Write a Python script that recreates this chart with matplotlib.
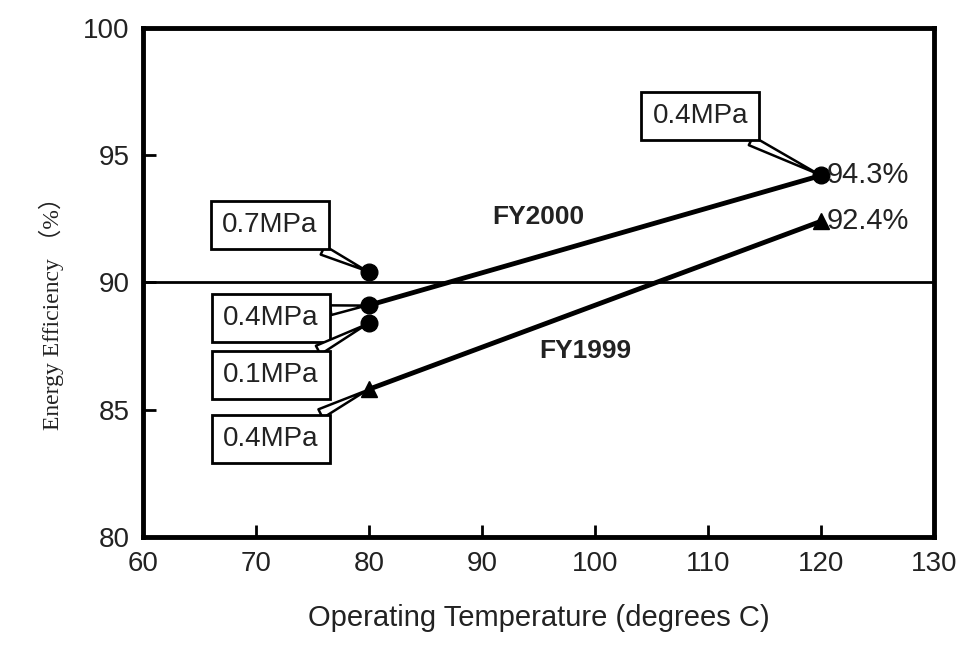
import matplotlib.pyplot as plt

# data
temps = [80, 120]
fy2000 = [89.1, 94.2]
fy1999 = [85.8, 92.4]
extra_temps = [80, 80]
extra_eff = [90.4, 88.4]   # 0.7MPa and 0.1MPa at 80 degC

# callouts: label, point (x, y), box centre (x, y)
callout_labels = ['0.7MPa', '0.4MPa', '0.1MPa', '0.4MPa', '0.4MPa']
callout_points = [(80, 90.4), (80, 89.1), (80, 88.4), (80, 85.8), (120, 94.2)]
callout_boxes = [(71.2, 92.25), (71.3, 88.6), (71.3, 86.35), (71.3, 83.85), (109.3, 96.55)]

end_labels = ['94.3%', '92.4%']

plt.rcParams['font.family'] = ['Liberation Sans', 'DejaVu Sans']

fig = plt.figure(figsize=(9.74, 6.49), dpi=100)
ax = fig.add_axes([0.147, 0.173, 0.812, 0.784])

ax.axhline(90, color='black', lw=2, zorder=1)
ax.plot(temps, fy2000, color='black', lw=3.5, marker='o', ms=12, zorder=3)
ax.plot(temps, fy1999, color='black', lw=3.5, marker='^', ms=12, zorder=3)
ax.plot(extra_temps, extra_eff, color='black', lw=0, marker='o', ms=12, zorder=3)

for lab, pt, box in zip(callout_labels, callout_points, callout_boxes):
    ax.annotate(lab, xy=pt, xytext=box, ha='center', va='center', fontsize=20,
                color='#222222',
                bbox=dict(boxstyle='square,pad=0.4', fc='white', ec='black', lw=2),
                arrowprops=dict(arrowstyle='wedge,tail_width=0.35,shrink_factor=0.5',
                                fc='white', ec='black', lw=1.8, shrinkA=0, shrinkB=2),
                zorder=4)

ax.text(120.5, fy2000[1], end_labels[0], ha='left', va='center', fontsize=21, color='#222222')
ax.text(120.5, fy1999[1], end_labels[1], ha='left', va='center', fontsize=21, color='#222222')

ax.text(95, 92.55, 'FY2000', ha='center', va='center', fontsize=19, fontweight='bold', color='#222222')
ax.text(99.1, 87.3, 'FY1999', ha='center', va='center', fontsize=19, fontweight='bold', color='#222222')

ax.set_xlim(60, 130)
ax.set_ylim(80, 100)
ax.set_xticks(range(60, 131, 10))
ax.set_yticks(range(80, 101, 5))
ax.tick_params(direction='in', length=9, width=2, labelsize=20, colors='black',
               labelcolor='#222222', pad=10)
for s in ax.spines.values():
    s.set_linewidth(3.5)

ax.set_xlabel('Operating Temperature (degrees C)', fontsize=21, color='#222222', labelpad=20)
ax.set_ylabel('Energy Efficiency （%）', fontsize=17, color='#222222',
              family=['Liberation Serif', 'Noto Sans CJK JP'])
ax.yaxis.set_label_coords(-0.1, 0.45)

fig.savefig('out.png', dpi=100)
